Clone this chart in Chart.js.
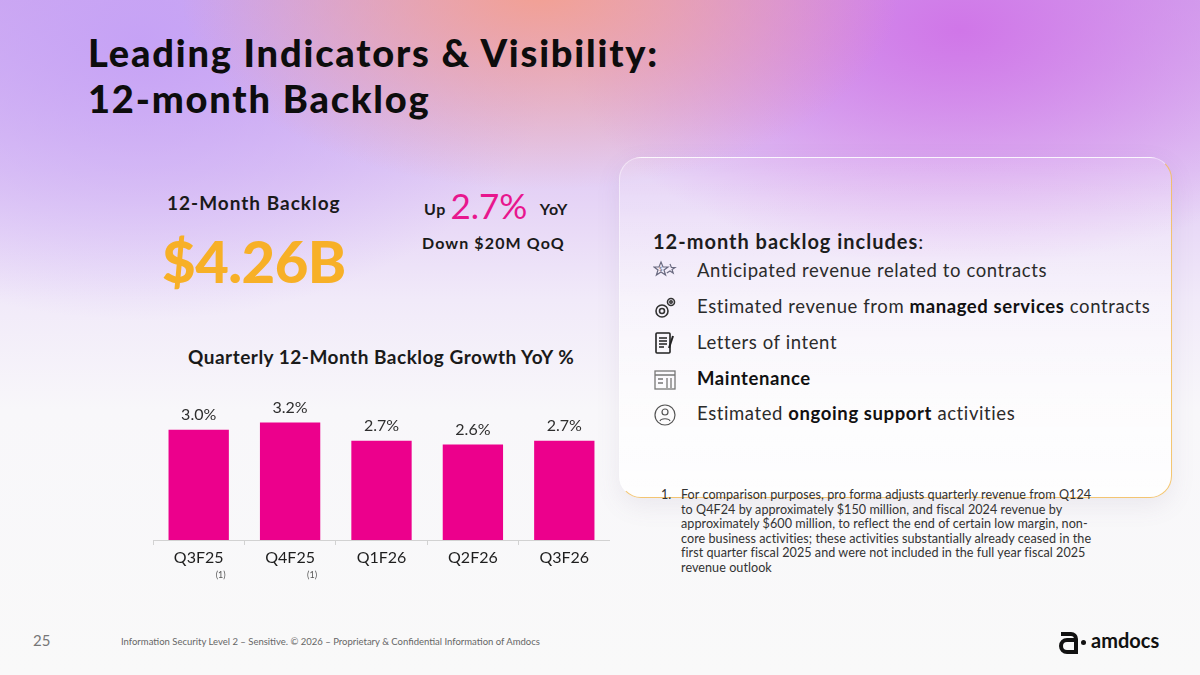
<!DOCTYPE html>
<html>
<head>
<meta charset="utf-8">
<script src="https://cdn.jsdelivr.net/npm/chart.js@4"></script>
<style>
  html, body { margin: 0; padding: 0; }
  body {
    width: 1200px; height: 675px; position: relative; overflow: hidden;
    font-family: Lato, "DejaVu Sans", sans-serif; color: #1a1a1a;
    background:
      radial-gradient(ellipse 360px 200px at 540px -10px, rgba(243,160,146,1), rgba(243,160,146,0) 100%),
      radial-gradient(ellipse 400px 240px at 960px 30px, rgba(208,118,232,1), rgba(208,118,232,0) 100%),
      radial-gradient(ellipse 420px 280px at 140px 40px, rgba(196,160,246,0.9), rgba(196,160,246,0) 100%),
      linear-gradient(to bottom, #d4b0ef 0px, #e2cdf5 170px, #f1eaf9 300px, #f8f7fa 410px, #f9f9f9 675px);
  }
  .abs { position: absolute; white-space: nowrap; }
  .title { position: absolute; left: 88px; margin: 0; font-size: 38px; line-height: 38px; font-weight: 900; color: #0d0d0d; letter-spacing: 1.8px; white-space: nowrap; }
  .panel {
    position: absolute; left: 619px; top: 157px; width: 553px; height: 341px;
    border-radius: 22px; box-sizing: border-box;
    background: linear-gradient(to bottom, rgba(255,255,255,0.12), rgba(255,255,255,0.45) 45%, rgba(255,255,255,0.8));
    border: 1px solid rgba(255,255,255,0.45);
    border-right: 1.5px solid rgba(242,188,90,0.85);
    border-bottom: 1.5px solid rgba(242,188,90,0.85);
    box-shadow: 0 8px 24px rgba(120,100,140,0.10);
  }
  .item { position: absolute; left: 697px; font-size: 18.5px; letter-spacing: 0.6px; color: #2b2b2b; white-space: nowrap; }
  .item b { color: #111; font-weight: 700; }
  .icon { position: absolute; left: 653px; width: 24px; height: 24px; }
  .note { position: absolute; left: 681px; top: 488px; font-size: 12.6px; line-height: 14.6px; letter-spacing: 0.05px; color: #333; white-space: nowrap; }
  #chartBox { position: absolute; left: 153px; top: 383px; width: 457px; height: 207px; }
</style>
</head>
<body>
<div class="title" style="top:33px;">Leading Indicators &amp; Visibility:</div>
<div class="title" style="top:79px;">12-month Backlog</div>

<div class="abs" style="left:167px; top:191px; font-size:19px; font-weight:700; letter-spacing:1px;">12-Month Backlog</div>
<div class="abs" style="left:162px; top:226px; font-size:58px; font-weight:900; color:#f7b027; letter-spacing:-0.5px;">$4.26B</div>

<div class="abs" style="left:424px; top:180px; font-weight:700; font-size:16px; letter-spacing:0.6px;">
  <span>Up</span>
  <span style="font-size:35px; color:#e8168e; font-weight:400; position:relative; top:4px; letter-spacing:0;">2.7%</span>
  <span style="margin-left:8px;">YoY</span>
</div>
<div class="abs" style="left:422px; top:233px; font-size:16px; font-weight:700; letter-spacing:1.1px;">Down $20M QoQ</div>

<div class="abs" style="left:188px; top:345px; font-size:19px; font-weight:700; letter-spacing:0.5px;">Quarterly 12-Month Backlog Growth YoY %</div>

<div class="panel"></div>
<div class="abs" style="left:653px; top:229px; font-size:20px; font-weight:700; letter-spacing:1px; color:#1d1d1d;">12-month backlog includes<span style="font-weight:400">:</span></div>

<svg class="icon" style="top:260px" viewBox="0 0 24 24" fill="none" stroke="#6a6a80" stroke-width="1.2">
  <path d="M8 2l2 5h5l-4 3 1.6 5L8 12l-4.6 3L5 10 1 7h5z"/><path d="M17 4l1.4 3.5h3.6l-2.9 2.1 1.1 3.5-3.2-2.1-3.2 2.1"/>
  <text x="6" y="11" font-size="6" fill="#6a6a80" stroke="none">$</text>
</svg>
<svg class="icon" style="top:296px" viewBox="0 0 24 24" fill="none" stroke="#333" stroke-width="1.6">
  <circle cx="9" cy="15" r="6"/><circle cx="9" cy="15" r="2.5"/><circle cx="18" cy="6" r="3.5"/><circle cx="18" cy="6" r="1.2"/>
</svg>
<svg class="icon" style="top:331px" viewBox="0 0 24 24" fill="none" stroke="#222" stroke-width="1.6">
  <rect x="3" y="2" width="14" height="20" rx="1"/><path d="M6 7h8M6 10h8M6 13h8M6 16h5"/><path d="M20 5l-4 12" stroke-width="2"/>
</svg>
<svg class="icon" style="top:368px" viewBox="0 0 24 24" fill="none" stroke="#777" stroke-width="1.3">
  <rect x="2" y="3" width="20" height="18"/><path d="M2 7h20M5 11h5M5 15h5M14 10v10M18 10v10"/>
</svg>
<svg class="icon" style="top:403px" viewBox="0 0 24 24" fill="none" stroke="#555" stroke-width="1.2">
  <circle cx="12" cy="12" r="10"/><circle cx="12" cy="9" r="3"/><path d="M7 18c1-3 9-3 10 0"/>
</svg>

<div class="item" style="top:259px;">Anticipated revenue related to contracts</div>
<div class="item" style="top:295px;">Estimated revenue from <b>managed services</b> contracts</div>
<div class="item" style="top:331px;">Letters of intent</div>
<div class="item" style="top:367px;"><b>Maintenance</b></div>
<div class="item" style="top:402px;">Estimated <b>ongoing support</b> activities</div>

<div class="abs" style="left:661px; top:488px; font-size:12.6px; line-height:14.6px; color:#333;">1.</div>
<div class="note">For comparison purposes, pro forma adjusts quarterly revenue from Q124<br>to Q4F24 by approximately $150 million, and fiscal 2024 revenue by<br>approximately $600 million, to reflect the end of certain low margin, non-<br>core business activities; these activities substantially already ceased in the<br>first quarter fiscal 2025 and were not included in the full year fiscal 2025<br>revenue outlook</div>

<div id="chartBox"><canvas id="backlogChart"></canvas></div>

<div class="abs" style="left:33px; top:631px; font-size:15px; color:#777;">25</div>
<div class="abs" style="left:121px; top:636px; font-size:9.5px; color:#666;">Information Security Level 2 – Sensitive. © 2026 – Proprietary &amp; Confidential Information of Amdocs</div>
<svg class="abs" style="left:1057px; top:629px;" width="24" height="26" viewBox="0 0 24 26">
  <path d="M4 5h10a5 5 0 0 1 5 5v13h-9a6 6 0 0 1 0-12h9" fill="none" stroke="#111" stroke-width="4"/>
</svg>
<div class="abs" style="left:1081px; top:640px; width:5px; height:5px; background:#111; border-radius:50%;"></div>
<div class="abs" style="left:1091px; top:628px; font-size:20px; font-weight:700; color:#111;">amdocs</div>

<script>
// 12-month backlog growth YoY, per quarter
const quarters = ['Q3F25', 'Q4F25', 'Q1F26', 'Q2F26', 'Q3F26'];
const growth = [3.0, 3.2, 2.7, 2.6, 2.7];
const footnotes = ['(1)', '(1)', '', '', ''];

// Draws the % value above each bar and the footnote marks under the labels
const barLabels = {
    id: 'barLabels',
    afterDatasetsDraw(chart) {
        const ctx = chart.ctx;
        const meta = chart.getDatasetMeta(0);
        const xScale = chart.scales.x;
        ctx.save();
        ctx.textAlign = 'center';
        meta.data.forEach((bar, i) => {
            ctx.font = '16px Lato, sans-serif';
            ctx.fillStyle = '#2e2e2e';
            ctx.textBaseline = 'bottom';
            ctx.fillText(growth[i].toFixed(1) + '%', bar.x, bar.y - 7);
            if (footnotes[i]) {
                ctx.font = '9px Lato, sans-serif';
                ctx.fillStyle = '#555';
                ctx.textBaseline = 'middle';
                ctx.fillText(footnotes[i], bar.x + 22, xScale.top + 35);
            }
        });
        ctx.restore();
    }
};

const ctx = document.getElementById('backlogChart').getContext('2d');
new Chart(ctx, {
    type: 'bar',
    data: {
        labels: quarters,
        datasets: [{
            data: growth,
            backgroundColor: '#ec008c',
            borderWidth: 0,
            categoryPercentage: 1.0,
            barPercentage: 0.66
        }]
    },
    options: {
        responsive: true,
        maintainAspectRatio: false,
        animation: false,
        layout: { padding: { top: 10, left: 0, right: 0, bottom: 0 } },
        plugins: {
            legend: { display: false },
            tooltip: { enabled: false }
        },
        scales: {
            y: {
                display: false,
                min: 0,
                max: 4
            },
            x: {
                afterFit: (scale) => { scale.height = 50; },
                border: { display: true, color: '#d2d2d2', width: 1 },
                grid: {
                    offset: true,
                    drawOnChartArea: false,
                    drawTicks: true,
                    tickLength: 5,
                    color: '#d2d2d2'
                },
                ticks: {
                    padding: 3,
                    color: '#1e1e1e',
                    font: { family: 'Lato, sans-serif', size: 16 }
                }
            }
        }
    },
    plugins: [barLabels]
});
</script>
</body>
</html>
